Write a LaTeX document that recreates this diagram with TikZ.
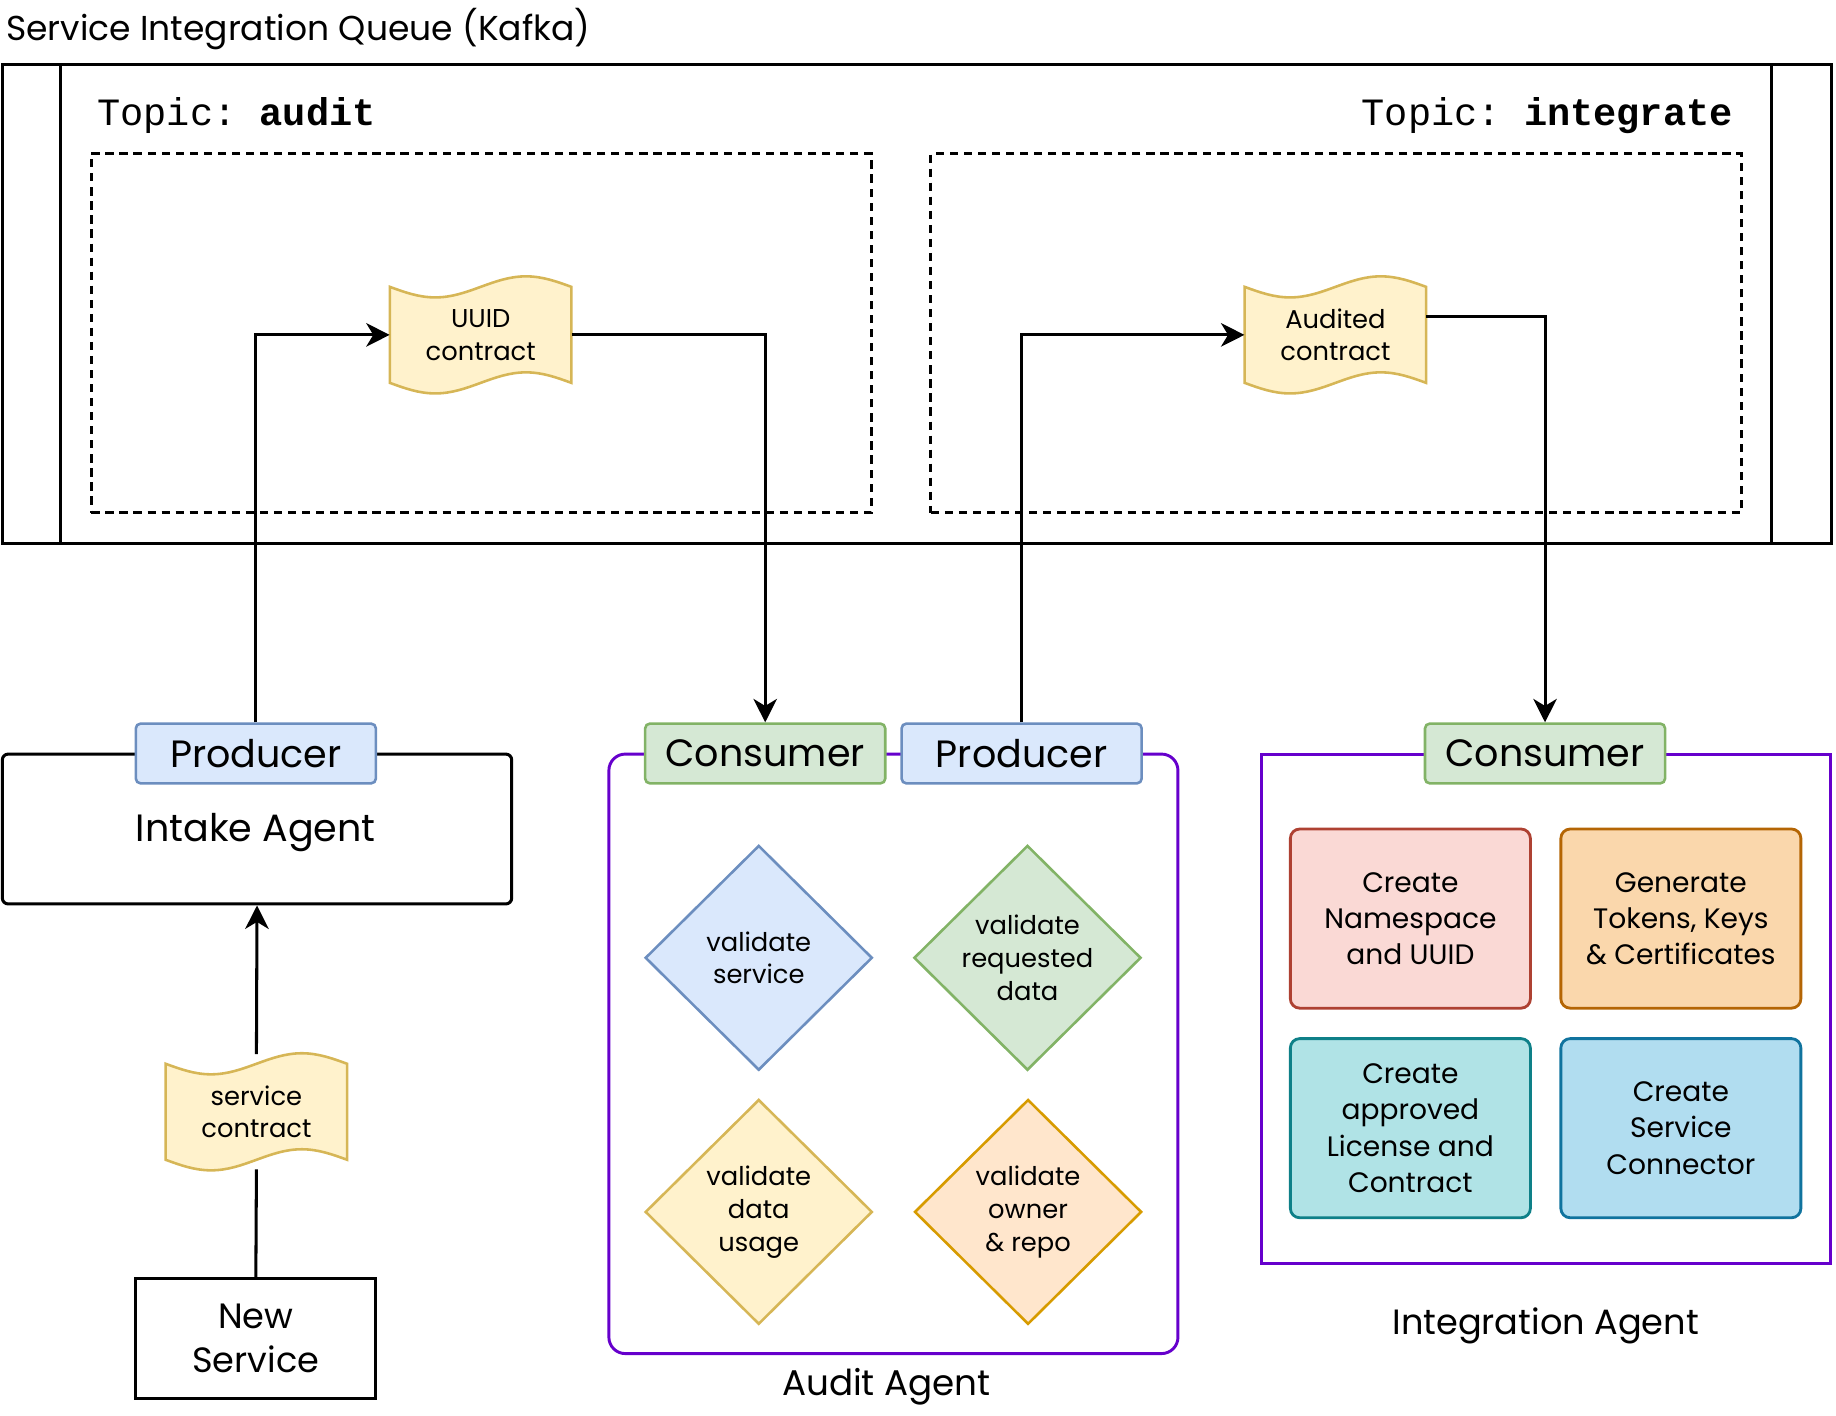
\documentclass[tikz,border=0pt]{standalone}
\usepackage{fontspec}
\setmainfont{Poppins}
\setmonofont{Liberation Mono}
\usetikzlibrary{arrows.meta,shapes.geometric,backgrounds,calc}
\definecolor{bluefill}{HTML}{DAE8FC}\definecolor{bluedraw}{HTML}{6C8EBF}
\definecolor{greenfill}{HTML}{D5E8D4}\definecolor{greendraw}{HTML}{82B366}
\definecolor{yelfill}{HTML}{FFF2CC}\definecolor{yeldraw}{HTML}{D6B656}
\definecolor{orfill}{HTML}{FFE6CC}\definecolor{ordraw}{HTML}{D79B00}
\definecolor{purp}{HTML}{6600CC}
\definecolor{redfill}{HTML}{FAD9D5}\definecolor{reddraw}{HTML}{AE4132}
\definecolor{orgfill}{HTML}{FAD7AC}\definecolor{orgdraw}{HTML}{B46504}
\definecolor{tealfill}{HTML}{B0E3E6}\definecolor{tealdraw}{HTML}{0E8088}
\definecolor{skyfill}{HTML}{B1DDF0}\definecolor{skydraw}{HTML}{10739E}
\tikzset{
  fs/.style={font=\fontsize{#1}{38}\selectfont},
  tag/.style={rounded corners=4pt, minimum width=205pt, minimum height=51pt, inner sep=0pt,
    line width=2.2pt, font=\fontsize{32.5}{38}\selectfont},
  prodbox/.style={tag, draw=bluedraw, fill=bluefill},
  consbox/.style={tag, draw=greendraw, fill=greenfill},
  agentbox/.style={draw=purp, line width=2.5pt},
  topicbox/.style={draw, dashed, dash pattern=on 7pt off 5pt, line width=2.5pt},
  docnode/.style={minimum width=155pt, minimum height=98pt, inner sep=0pt, align=center,
    font=\fontsize{22}{28}\selectfont},
  tapestyle/.style={draw=yeldraw, fill=yelfill, line width=2.2pt},
  dia/.style={diamond, minimum width=194pt, minimum height=192pt, inner sep=0pt, align=center,
    line width=2.2pt, font=\fontsize{22}{28}\selectfont},
  task/.style={rounded corners=8pt, minimum width=205pt, minimum height=153pt, inner sep=0pt,
    align=center, line width=2.4pt, font=\fontsize{24}{31}\selectfont},
  conn/.style={line width=2.6pt, -{Stealth[length=20pt,width=20pt,inset=6pt]}},
  plain/.style={line width=2.6pt},
}
\newcommand{\tapedraw}[1]{%
  \begin{pgfonlayer}{background}
  \draw[tapestyle] ([shift={(-77.5,-41)}]#1.center)
     sin ++(38.75,9) cos ++(38.75,-9) sin ++(38.75,-9) cos ++(38.75,9)
     -- ++(0,82)
     sin ++(-38.75,-9) cos ++(-38.75,9) sin ++(-38.75,9) cos ++(-38.75,-9) -- cycle;
  \end{pgfonlayer}}
\begin{document}
\begin{tikzpicture}[x=1pt,y=-1pt]
\useasboundingbox (0,0) rectangle (1568,1209);
% title
\node[anchor=base west, inner sep=0pt, fs=29.5] (title) at (5,35) {Service Integration Queue (Kafka)};
% queue
\node[draw, line width=3pt, minimum width=1562pt, minimum height=409pt, inner sep=0pt] (queue) at (783,259.5) {};
\draw[line width=2.6pt] (52,55) -- (52,464);
\draw[line width=2.6pt] (1513,55) -- (1513,464);
\node[anchor=base west, inner sep=0pt, font=\ttfamily\fontsize{33}{33}\selectfont] (ta) at (83,107) {Topic: \textbf{audit}};
\node[anchor=base east, inner sep=0pt, font=\ttfamily\fontsize{33}{33}\selectfont] (ti) at (1480,107) {Topic: \textbf{integrate}};
\node[topicbox, minimum width=666pt, minimum height=307pt, inner sep=0pt] (audbox) at (411,284.5) {};
\node[topicbox, minimum width=692pt, minimum height=307pt, inner sep=0pt] (intbox) at (1141,284.5) {};
% documents
\node[docnode] (uuid) at (410.5,286) {UUID\\contract};
\tapedraw{uuid}
\node[docnode] (aud) at (1140.5,286) {Audited\\contract};
\tapedraw{aud}
\node[docnode] (sc) at (219,949.5) {service\\contract};
\tapedraw{sc}
% intake agent
\node[draw, rounded corners=5pt, line width=2.6pt, minimum width=435pt, minimum height=128pt, inner sep=0pt] (intake) at (219.5,708) {};
\node[fs=32.5] (intakelbl) at (218.5,711) {Intake Agent};
\node[prodbox] (prodI) at (218.5,643.5) {Producer};
\node[draw, line width=2.6pt, minimum width=205pt, minimum height=102pt, inner sep=0pt, align=center,
  font=\fontsize{30}{38}\selectfont] (newsvc) at (218.5,1143) {New\\Service};
% audit agent
\node[agentbox, rounded corners=14pt, minimum width=486pt, minimum height=512pt, inner sep=0pt] (auditag) at (763,900) {};
\node[fs=30.5] (auditlbl) at (757,1184) {Audit Agent};
\node[consbox] (consA) at (653.5,643.5) {Consumer};
\node[prodbox] (prodA) at (872.5,643.5) {Producer};
\node[dia, draw=bluedraw, fill=bluefill] (d1) at (648,818) {validate\\service};
\node[dia, draw=greendraw, fill=greenfill] (d2) at (877.5,818) {validate\\requested\\data};
\node[dia, draw=yeldraw, fill=yelfill] (d3) at (648,1035) {validate\\data\\usage};
\node[dia, draw=ordraw, fill=orfill] (d4) at (878,1035) {validate\\owner\\\& repo};
% integration agent
\node[agentbox, minimum width=486pt, minimum height=435pt, inner sep=0pt] (integag) at (1320,861.5) {};
\node[fs=30] (integlbl) at (1320,1132) {Integration Agent};
\node[consbox] (consI) at (1319.5,643.5) {Consumer};
\node[task, draw=reddraw, fill=redfill] (t1) at (1204.5,784.5) {Create\\Namespace\\and UUID};
\node[task, draw=orgdraw, fill=orgfill] (t2) at (1435.5,784.5) {Generate\\Tokens, Keys\\\& Certificates};
\node[task, draw=tealdraw, fill=tealfill] (t3) at (1204.5,963.5) {Create\\approved\\License and\\Contract};
\node[task, draw=skydraw, fill=skyfill] (t4) at (1435.5,963.5) {Create\\Service\\Connector};
% connectors
\draw[conn] (prodI.north) |- (uuid.west);
\draw[conn] (uuid.east) -| (consA.north);
\draw[conn] (prodA.north) |- (aud.west);
\draw[conn] ([yshift=16pt]aud.east) -| (consI.north);
\draw[conn] (sc.north) -- (intake.south);
\draw[plain] (newsvc.north) -- (sc.south);
\end{tikzpicture}
\end{document}
